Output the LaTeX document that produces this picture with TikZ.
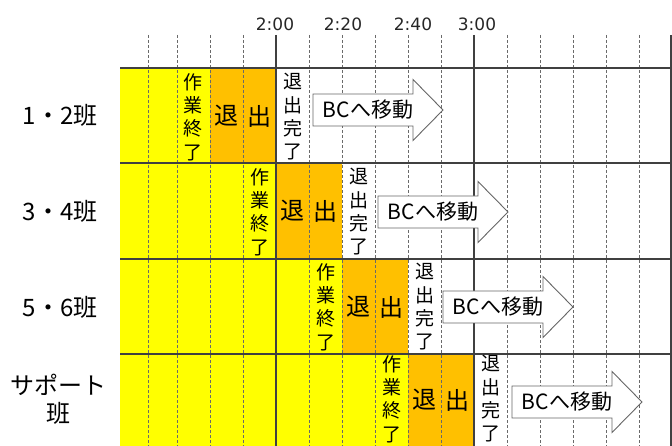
\documentclass[tikz,border=0pt]{standalone}
\usepackage{fontspec}
\setmainfont{Noto Sans CJK JP}
\newfontfamily\timefont{DejaVu Sans}
\definecolor{cyel}{HTML}{FFFF00}
\definecolor{corg}{HTML}{FFC000}
\definecolor{cline}{HTML}{404040}
\definecolor{cdash}{HTML}{6A6A6A}
\newcommand{\bcarrow}[3]{%
  \draw[mvarrow] (#2,#3-16) -- (#2+100,#3-16) -- (#2+100,#3-30.5) -- (#2+130,#3)
     -- (#2+100,#3+30.5) -- (#2+100,#3+16) -- (#2,#3+16) -- cycle;
  \node[arrowtext] (#1) at (#2+55,#3) {BCへ移動};}
\begin{document}
\begin{tikzpicture}[x=1pt,y=-1pt,
  vtext/.style={font=\fontsize{19}{23.3}\selectfont, align=center, inner sep=0pt},
  bigc/.style={font=\fontsize{24}{24}\selectfont, inner sep=0pt},
  grp/.style={font=\fontsize{24}{28}\selectfont, align=center, inner sep=0pt},
  tlabel/.style={font=\timefont\fontsize{17}{17}\selectfont, text=black!85, inner sep=0pt},
  arrowtext/.style={font=\fontsize{21}{21}\selectfont, inner sep=0pt},
  mvarrow/.style={draw=black!60, fill=white, line width=0.9pt, line join=miter},
  rowline/.style={draw=cline, line width=1.6pt},
  dashv/.style={draw=cdash, line width=0.9pt, dash pattern=on 3pt off 2pt},
  solidv/.style={draw=cline, line width=1.4pt},
  yelcell/.style={fill=cyel},
  orgcell/.style={fill=corg}]
\useasboundingbox (0,0) rectangle (672,446);
% fills
\fill[yelcell] (120,68) rectangle (210,163);
\fill[orgcell] (210,68) rectangle (276,163);
\fill[yelcell] (120,163) rectangle (276,259);
\fill[orgcell] (276,163) rectangle (342,259);
\fill[yelcell] (120,259) rectangle (342,354);
\fill[orgcell] (342,259) rectangle (408,354);
\fill[yelcell] (120,354) rectangle (408,446);
\fill[orgcell] (408,354) rectangle (474,446);
% grid
\foreach \x in {148,177,210,243,309,342,375,408,441,507,540,573,606,639}
  \draw[dashv] (\x,35) -- (\x,446);
\foreach \x in {276,474,671}
  \draw[solidv] (\x,35) -- (\x,446);
\foreach \y in {68,163,259,354}
  \draw[rowline] (120,\y) -- (672,\y);
% time labels
\node[tlabel] (t200) at (275,24) {2:00};
\node[tlabel] (t220) at (343,24) {2:20};
\node[tlabel] (t240) at (413,24) {2:40};
\node[tlabel] (t300) at (477,24) {3:00};
% group labels
\node[grp] (g1) at (60,115) {1・2班};
\node[grp] (g2) at (60,211) {3・4班};
\node[grp] (g3) at (60,307) {5・6班};
\node[grp] (g4) at (58,399) {サポート\\班};
% row 1
\node[vtext] (w1) at (193,117) {作\\業\\終\\了};
\node[bigc] (o1a) at (226.5,116) {退};
\node[bigc] (o1b) at (259.5,116) {出};
\node[vtext] (d1) at (292.5,117) {退\\出\\完\\了};
\bcarrow{m1}{313}{110}
% row 2
\node[vtext] (w2) at (259.5,212) {作\\業\\終\\了};
\node[bigc] (o2a) at (292.5,211) {退};
\node[bigc] (o2b) at (325.5,211) {出};
\node[vtext] (d2) at (358.5,212) {退\\出\\完\\了};
\bcarrow{m2}{378}{212}
% row 3
\node[vtext] (w3) at (325.5,307) {作\\業\\終\\了};
\node[bigc] (o3a) at (358.5,307) {退};
\node[bigc] (o3b) at (391.5,307) {出};
\node[vtext] (d3) at (424.5,307) {退\\出\\完\\了};
\bcarrow{m3}{443}{307}
% row 4
\node[vtext] (w4) at (391.5,399) {作\\業\\終\\了};
\node[bigc] (o4a) at (424.5,400) {退};
\node[bigc] (o4b) at (457.5,400) {出};
\node[vtext] (d4) at (490.5,399) {退\\出\\完\\了};
\bcarrow{m4}{512}{402}
\end{tikzpicture}
\end{document}
